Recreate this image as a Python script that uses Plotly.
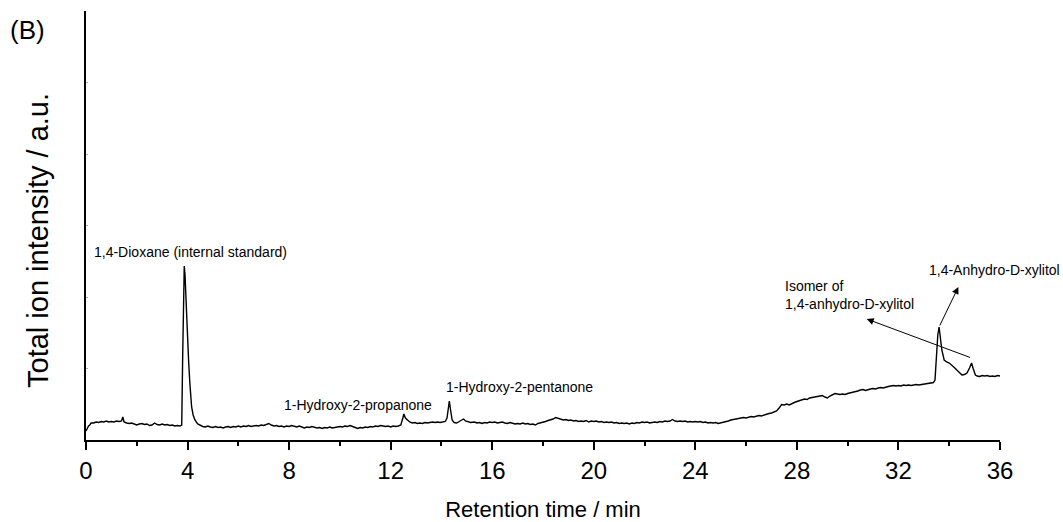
import plotly.graph_objects as go

# ---------------- data ----------------
# Retention time (min) and total ion intensity (a.u.), segment by segment
t_start = [0.00, 0.05, 0.10, 0.15, 0.20, 0.30, 0.40, 0.50, 0.60, 0.70, 0.80, 0.90,
           1.00, 1.10, 1.20, 1.30, 1.40, 1.45, 1.50, 1.60, 1.70, 1.80, 1.90,
           2.00, 2.10, 2.20, 2.30, 2.40, 2.50, 2.60, 2.70, 2.80, 2.90,
           3.00, 3.10, 3.20, 3.30, 3.40, 3.50, 3.60, 3.70, 3.75]
i_start = [9, 12, 14, 15, 17, 17, 18, 17.5, 18.5, 18, 19, 18,
           18.5, 18, 19, 18.5, 19, 23, 18, 17, 16.5, 17, 16,
           15, 16, 16.5, 15.5, 16, 14.5, 15, 17, 15.5, 15,
           16, 15, 15.5, 14.5, 15, 14, 14.5, 14, 14.5]

t_dioxane = [3.77, 3.81, 3.85, 3.87, 3.90, 3.94, 3.99, 4.04, 4.09, 4.16, 4.22, 4.29, 4.40, 4.50]
i_dioxane = [15, 87, 154, 174, 165, 137, 103, 80, 57, 33, 25, 20, 16, 14.5]

t_mid = [4.6, 4.7, 4.8, 4.9, 5.0, 5.1, 5.2, 5.3, 5.4, 5.5,
         5.6, 5.7, 5.8, 5.9, 6.0, 6.1, 6.2, 6.3, 6.4, 6.5,
         6.6, 6.7, 6.8, 6.9, 7.0, 7.1, 7.2, 7.3, 7.4, 7.5,
         7.6, 7.7, 7.8, 7.9, 8.0, 8.1, 8.2, 8.3, 8.4, 8.5,
         8.6, 8.7, 8.8, 8.9, 9.0, 9.1, 9.2, 9.3, 9.4, 9.5,
         9.6, 9.7, 9.8, 9.9, 10.0, 10.1, 10.2, 10.3, 10.4, 10.5,
         10.6, 10.7, 10.8, 10.9, 11.0, 11.1, 11.2, 11.3, 11.4, 11.5,
         11.6, 11.7, 11.8, 11.9, 12.0, 12.1, 12.2, 12.3, 12.4]
i_mid = [13.5, 13, 14, 13, 12.5, 13.5, 12.5, 13, 12, 13,
         13.5, 12.5, 13.5, 13, 14, 13, 14, 13.5, 14.5, 13.5,
         14, 14.5, 14, 15, 14.5, 15.5, 16.5, 15, 14, 14.5,
         13.5, 14, 13, 14, 13.5, 14.5, 13.5, 13, 14, 13,
         12, 13, 12.5, 13.5, 12.5, 12, 12.5, 11.5, 12.5, 12,
         13, 12, 12.5, 13, 13.5, 13, 14, 13.5, 14.5, 13.5,
         12.5, 11.5, 12.5, 12, 13, 12.5, 13.5, 13, 14, 13.5,
         14.5, 14, 13.5, 14, 13, 14, 13.5, 14, 15]

t_propanone = [12.48, 12.52, 12.58, 12.65, 12.75, 12.85, 12.95, 13.05, 13.15, 13.25,
               13.35, 13.45, 13.55, 13.65, 13.75, 13.85, 13.95, 14.05, 14.15]
i_propanone = [22, 26, 22, 20, 18, 17, 17.5, 16.5, 17, 16.5,
               17.5, 17, 17.5, 18, 17.5, 18, 17.5, 18, 18.5]

t_pentanone = [14.22, 14.27, 14.31, 14.36, 14.42, 14.50, 14.60, 14.70, 14.80, 14.87,
               14.95, 15.05, 15.15]
i_pentanone = [22, 32, 39, 30, 20, 17.5, 17, 18.5, 20.5, 21,
               19, 18, 17.5]

t_late = [15.3, 15.4, 15.5, 15.6, 15.7, 15.8, 15.9, 16.0, 16.1, 16.2,
          16.3, 16.4, 16.5, 16.6, 16.7, 16.8, 16.9, 17.0, 17.1, 17.2,
          17.3, 17.4, 17.5, 17.6, 17.7, 17.8, 17.9, 18.0, 18.1, 18.2,
          18.3, 18.4, 18.5, 18.6, 18.7, 18.8, 18.9, 19.0, 19.1, 19.2,
          19.3, 19.4, 19.5, 19.6, 19.7, 19.8, 19.9, 20.0, 20.1, 20.2,
          20.3, 20.4, 20.5, 20.6, 20.7, 20.8, 20.9, 21.0, 21.1, 21.2,
          21.3, 21.4, 21.5, 21.6, 21.7, 21.8, 21.9, 22.0, 22.1, 22.2,
          22.3, 22.4, 22.5, 22.6, 22.7, 22.8, 22.9, 23.0, 23.1, 23.2,
          23.3, 23.4, 23.5, 23.6, 23.7, 23.8, 23.9, 24.0, 24.1, 24.2,
          24.3, 24.4, 24.5, 24.6, 24.7, 24.8, 24.9, 25.0, 25.1, 25.2,
          25.3, 25.4, 25.5, 25.6, 25.7, 25.8, 25.9, 26.0, 26.1, 26.2,
          26.3, 26.4, 26.5, 26.6, 26.7, 26.8, 26.9, 27.0, 27.1, 27.2,
          27.3, 27.4, 27.5, 27.6, 27.7, 27.8, 27.9, 28.0, 28.1, 28.2,
          28.3, 28.4, 28.5, 28.6, 28.7, 28.8, 28.9, 29.0, 29.1, 29.2,
          29.3, 29.4, 29.5, 29.6, 29.7, 29.8, 29.9, 30.0, 30.1, 30.2,
          30.3, 30.4, 30.5, 30.6, 30.7, 30.8, 30.9, 31.0, 31.1, 31.2,
          31.3, 31.4, 31.5, 31.6, 31.7, 31.8, 31.9, 32.0, 32.1, 32.2,
          32.3, 32.4, 32.5, 32.6, 32.7, 32.8, 32.9, 33.0, 33.1, 33.2,
          33.3]
i_late = [18, 17, 17.5, 16.5, 17.5, 17, 18, 17.5, 18, 17,
          17.5, 18, 17, 16.5, 17.5, 17, 16, 16.5, 16, 17,
          16, 16.5, 15.5, 16, 15, 16.5, 17, 18, 18.5, 19.5,
          20, 21, 22.5, 21.5, 21, 20, 20.5, 19.5, 20, 19,
          19.5, 18.5, 19, 18.5, 19.5, 18, 19, 18.5, 19, 18,
          18.5, 17.5, 18, 17.5, 18, 17, 17.5, 16.5, 17, 16.5,
          17, 16, 17, 16.5, 17.5, 17, 18, 17.5, 18, 17,
          17.5, 18, 17.5, 18.5, 18, 19, 18.5, 19, 20.5, 19,
          18.5, 19, 18.5, 19, 18, 18.5, 18, 18.5, 18, 18.5,
          17.5, 18, 17, 17.5, 17, 17.5, 16.5, 17, 17.5, 18.5,
          19, 20, 20.5, 21, 21.5, 22, 22.5, 22, 23, 23.5,
          23, 24, 24.5, 24, 25, 25.5, 26.5, 27, 28, 29,
          32, 35.5, 35, 36, 35, 36.5, 37.5, 38.5, 39.5, 40,
          41, 40.5, 42, 42.5, 43, 43.5, 44, 44.5, 43, 42,
          44, 45.5, 46.5, 46, 45.5, 46, 45.5, 46.5, 47, 47.5,
          48.5, 49, 50, 50.5, 49.5, 50.5, 51, 51.5, 51, 52,
          52.5, 52, 53, 53.5, 54, 54.5, 54, 54.5, 54, 55,
          54.5, 55, 54.5, 55, 55.5, 55, 55.5, 56, 56, 56.5,
          57]

t_xylitol = [33.38, 33.44, 33.50, 33.55, 33.60, 33.66, 33.71, 33.80, 33.90, 34.00,
             34.10, 34.20, 34.30, 34.40, 34.50, 34.60, 34.70, 34.80, 34.88, 34.95,
             35.03, 35.10, 35.20, 35.30, 35.40, 35.50, 35.60, 35.70, 35.80, 35.90,
             36.00]
i_xylitol = [57.5, 60, 85, 105, 113, 100, 90, 80, 78, 77,
             75, 72.5, 70, 67, 65, 65.5, 67, 72, 77, 71,
             65, 64, 63.5, 64.5, 64, 64.5, 63.5, 64, 63.5, 64.5,
             64]

time_min = t_start + t_dioxane + t_mid + t_propanone + t_pentanone + t_late + t_xylitol
intensity = i_start + i_dioxane + i_mid + i_propanone + i_pentanone + i_late + i_xylitol
assert len(time_min) == len(intensity)

x_ticks = [0, 4, 8, 12, 16, 20, 24, 28, 32, 36]

# peak labels: text and the label's left-middle point (time, intensity)
label_texts = ["1,4-Dioxane (internal standard)", "1-Hydroxy-2-propanone",
               "1-Hydroxy-2-pentanone", "Isomer of<br>1,4-anhydro-D-xylitol",
               "1,4-Anhydro-D-xylitol"]
label_time = [0.24, 7.71, 14.1, 27.45, 33.11]
label_int = [188, 35, 53, 145, 170]

FONT = "Arial, Liberation Sans, Helvetica, sans-serif"

fig = go.Figure()
fig.add_trace(go.Scatter(x=time_min, y=intensity, mode="lines",
                         line=dict(color="black", width=1.4),
                         showlegend=False, hoverinfo="x+y"))

ann = []
for txt, tx, ty in zip(label_texts, label_time, label_int):
    ann.append(dict(x=tx, y=ty, xref="x", yref="y", text=txt, showarrow=False,
                    xanchor="left", yanchor="middle", align="left",
                    font=dict(family=FONT, size=14, color="black")))

# arrows: tail on the peaks, head pointing to the labels
ann.append(dict(x=30.75, y=121, ax=34.88, ay=82, xref="x", yref="y",
                axref="x", ayref="y", text="", showarrow=True,
                arrowhead=2, arrowsize=1.4, arrowwidth=1, arrowcolor="black"))
ann.append(dict(x=34.36, y=153, ax=33.6, ay=113, xref="x", yref="y",
                axref="x", ayref="y", text="", showarrow=True,
                arrowhead=2, arrowsize=1.4, arrowwidth=1, arrowcolor="black"))

ann.append(dict(x=-0.085, y=0.955, xref="paper", yref="paper", text="(B)",
                showarrow=False, xanchor="left", yanchor="middle",
                font=dict(family=FONT, size=26, color="black")))

# y-axis title (placed as in the reference, slightly below the axis centre)
ann.append(dict(x=-0.0525, y=0.464, xref="paper", yref="paper",
                text="Total ion intensity / a.u.", textangle=-90,
                showarrow=False, xanchor="center", yanchor="middle",
                font=dict(family=FONT, size=29, color="black")))

fig.update_layout(
    width=1063, height=522,
    margin=dict(l=86, r=63, t=11, b=82, autoexpand=False),
    paper_bgcolor="white", plot_bgcolor="white",
    font=dict(family=FONT, color="black"),
    annotations=ann,
    xaxis=dict(range=[0, 36], tickmode="array", tickvals=x_ticks,
               automargin=False,
               ticks="outside", ticklen=8, tickwidth=1.5, tickcolor="black",
               showline=True, linecolor="black", linewidth=2,
               showgrid=False, zeroline=False,
               tickfont=dict(family=FONT, size=24, color="black"),
               minor=dict(dtick=2, tick0=0, ticks="outside", ticklen=4,
                          tickwidth=1.5, tickcolor="black", showgrid=False),
               title=dict(text="Retention time / min", standoff=20,
                          font=dict(family=FONT, size=22, color="black"))),
    yaxis=dict(range=[0, 429], tick0=0, dtick=71.5, automargin=False,
               ticks="inside", ticklen=2, tickwidth=1, tickcolor="#aaaaaa",
               showticklabels=False,
               showline=True, linecolor="black", linewidth=2,
               showgrid=False, zeroline=False),
)

fig.write_html("out.html")
